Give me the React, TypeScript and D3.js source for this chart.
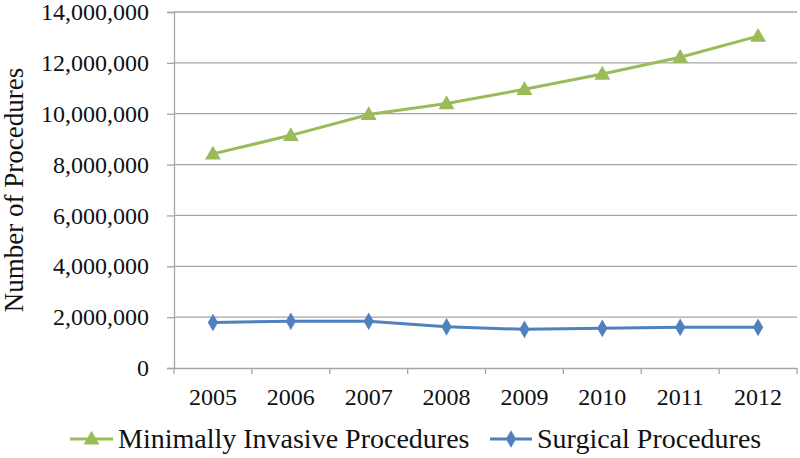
import React, { useRef, useEffect } from 'react';
import * as d3 from 'd3';

const years = ['2005', '2006', '2007', '2008', '2009', '2010', '2011', '2012'];
const minimallyInvasive = [8420000, 9150000, 9970000, 10400000, 10960000, 11560000, 12220000, 13050000];
const surgical = [1790000, 1840000, 1840000, 1620000, 1520000, 1560000, 1600000, 1600000];
const yTicks = [0, 2000000, 4000000, 6000000, 8000000, 10000000, 12000000, 14000000];

const WIDTH = 800;
const HEIGHT = 458;
const FONT = 'Liberation Serif, serif';

const App = () => {
    const svgRef = useRef<SVGSVGElement>(null);

    useEffect(() => {
        const svg = d3.select(svgRef.current);
        svg.selectAll('*').remove();

        const left = 174, right = 797, top = 12, bottom = 368;

        const x = d3.scaleBand<string>().domain(years).range([left, right]);
        const y = d3.scaleLinear().domain([0, 14000000]).range([bottom, top]);
        const cx = (d: string) => (x(d) as number) + x.bandwidth() / 2;

        // gridlines
        svg.append('g')
            .selectAll('line')
            .data(yTicks.filter(t => t > 0))
            .enter()
            .append('line')
            .attr('x1', left)
            .attr('x2', right)
            .attr('y1', d => y(d))
            .attr('y2', d => y(d))
            .attr('stroke', '#a6a6a6')
            .attr('stroke-width', 1.3);

        // y axis
        const yAxis = svg.append('g')
            .attr('transform', `translate(${left},0)`)
            .call(d3.axisLeft(y).tickValues(yTicks).tickSize(7).tickPadding(18).tickFormat(d3.format(',')));
        yAxis.attr('font-family', FONT).attr('font-size', 24);
        yAxis.select('.domain').attr('stroke', '#a6a6a6').attr('stroke-width', 1.3);
        yAxis.selectAll('.tick line').attr('stroke', '#a6a6a6').attr('stroke-width', 1.3);
        yAxis.selectAll('text').attr('fill', '#111');

        // x axis
        const xAxis = svg.append('g')
            .attr('transform', `translate(0,${bottom})`)
            .call(d3.axisBottom(x).tickSize(0).tickPadding(20));
        xAxis.attr('font-family', FONT).attr('font-size', 24);
        xAxis.select('.domain').attr('stroke', '#a6a6a6').attr('stroke-width', 1.3);
        xAxis.selectAll('text').attr('fill', '#111');
        svg.append('g')
            .selectAll('line')
            .data(years.concat(['end']))
            .enter()
            .append('line')
            .attr('x1', (d, i) => left + i * x.bandwidth())
            .attr('x2', (d, i) => left + i * x.bandwidth())
            .attr('y1', bottom)
            .attr('y2', bottom + 6)
            .attr('stroke', '#a6a6a6')
            .attr('stroke-width', 1.3);

        // y title
        svg.append('text')
            .attr('transform', `translate(23,${(top + bottom) / 2}) rotate(-90)`)
            .attr('text-anchor', 'middle')
            .attr('fill', '#111')
            .attr('font-family', FONT)
            .attr('font-size', 27)
            .text('Number of Procedures');

        const line = d3.line<number>()
            .x((d, i) => cx(years[i]))
            .y(d => y(d));

        const triangle = d3.symbol().type(d3.symbolTriangle).size(110);
        const diamond = d3.symbol().type(d3.symbolDiamond).size(90);

        const series = [
            { values: minimallyInvasive, color: '#9bbb59', symbol: triangle, dy: 1 },
            { values: surgical, color: '#4f81bd', symbol: diamond, dy: 0 },
        ];

        series.forEach(s => {
            svg.append('path')
                .datum(s.values)
                .attr('d', line)
                .attr('fill', 'none')
                .attr('stroke', s.color)
                .attr('stroke-width', 3);
            svg.append('g')
                .selectAll('path')
                .data(s.values)
                .enter()
                .append('path')
                .attr('d', s.symbol)
                .attr('transform', (d, i) => `translate(${cx(years[i])},${y(d) + s.dy})`)
                .attr('fill', s.color);
        });

        // legend
        const legend = [
            { label: 'Minimally Invasive Procedures', color: '#9bbb59', symbol: triangle, x: 70, w: 43 },
            { label: 'Surgical Procedures', color: '#4f81bd', symbol: diamond, x: 490, w: 42 },
        ];
        const ly = 439;
        legend.forEach(l => {
            const g = svg.append('g').attr('transform', `translate(${l.x},${ly})`);
            g.append('line')
                .attr('x1', 0)
                .attr('x2', l.w)
                .attr('y1', 0)
                .attr('y2', 0)
                .attr('stroke', l.color)
                .attr('stroke-width', 3);
            g.append('path')
                .attr('d', l.symbol)
                .attr('transform', `translate(${l.w / 2},${l.symbol === triangle ? 1 : 0})`)
                .attr('fill', l.color);
            g.append('text')
                .attr('x', l.w + 5)
                .attr('y', 9)
                .attr('fill', '#111')
                .attr('font-family', FONT)
                .attr('font-size', 28)
                .text(l.label);
        });
    }, []);

    return (
        <svg
            ref={svgRef}
            width={WIDTH}
            height={HEIGHT}
            style={{ position: 'absolute', left: 0, top: 0, background: '#fff' }}
        ></svg>
    );
};

export default App;
